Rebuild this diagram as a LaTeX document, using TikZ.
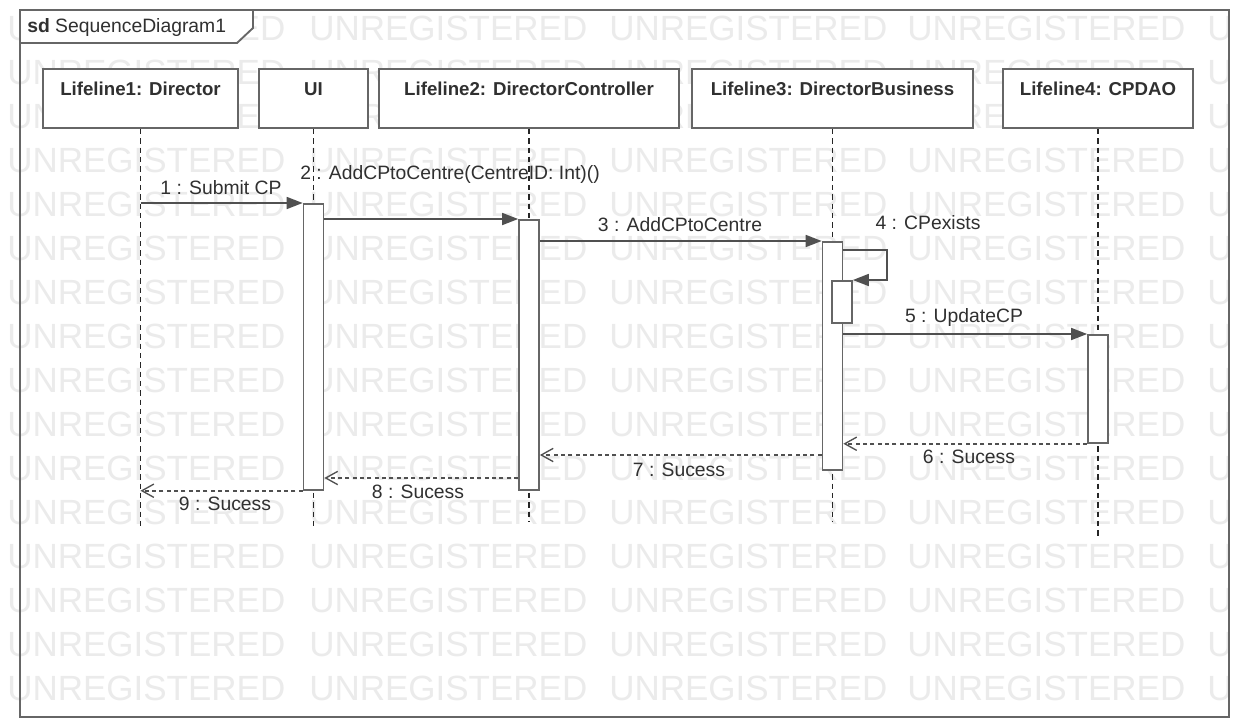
\documentclass[tikz,border=0pt]{standalone}
\usepackage{fontspec}
\setmainfont{Liberation Sans}
\usetikzlibrary{arrows.meta,calc}
\newcommand\pxu[1]{#1*0.75pt}
\definecolor{linecol}{HTML}{666666}
\definecolor{msgcol}{HTML}{505050}
\definecolor{txtcol}{HTML}{303030}
\definecolor{wmcol}{HTML}{EBEBEB}
\begin{document}
\begin{tikzpicture}[x=0.75pt,y=-0.75pt,
  font=\fontsize{14.5}{17}\selectfont, text=txtcol,
  wm/.style={inner sep=0pt, text=wmcol, font=\fontsize{26.25}{30}\selectfont},
  frame/.style={draw=linecol, line width=1.4pt},
  head/.style={draw=linecol, line width=1.3pt, fill=white, inner xsep=0pt, inner ysep=0pt,
    text height=19.5pt, text depth=24.75pt, font=\fontsize{14}{16}\selectfont\bfseries},
  bar/.style={draw=linecol, line width=1.3pt, fill=white, minimum width=\pxu{20}, inner sep=0pt, anchor=north},
  lifeline/.style={draw=black!85, line width=0.8pt, dash pattern=on 4pt off 3pt},
  msg/.style={draw=msgcol, line width=1.3pt, -{Triangle[length=12pt,width=9pt]}},
  ret/.style={draw=msgcol, line width=1.3pt, dash pattern=on 3pt off 2.5pt,
    -{Straight Barb[length=9pt,width=10pt,line width=1pt]}},
  lbl/.style={inner sep=0pt}
]
\useasboundingbox (0,0) rectangle (1235,725);
\fill[white] (0,0) rectangle (1235,725);

% watermark
\begin{scope}
\clip (0,0) rectangle (1235,725);
\foreach \r in {0,...,15} {
  \foreach \c/\xx in {0/7,1/309,2/609,3/907,4/1207} {
    \node[wm, anchor=base west] (wm-\r-\c) at (\xx, {40.5+44*\r}) {UNREGISTERED};
  }
}
\end{scope}

% frame
\coordinate (f1) at (20,10);
\coordinate (f2) at (1229,717);
\draw[frame] (f1) rectangle (f2);
\draw[frame, fill=white] (20,10) -- (253,10) -- (253,28) -- (237,43) -- (20,43) -- cycle;
\node[anchor=west, inner sep=0pt] (title) at (27,27) {\textbf{sd} SequenceDiagram1};

% heads
\node[head, minimum width=\pxu{195}] (h1) at (140.5,98.5) {Lifeline1: Director};
\node[head, minimum width=\pxu{109}] (h2) at (313.5,98.5) {UI};
\node[head, minimum width=\pxu{300}] (h3) at (529,98.5) {Lifeline2: DirectorController};
\node[head, minimum width=\pxu{281}] (h4) at (832.5,98.5) {Lifeline3: DirectorBusiness};
\node[head, minimum width=\pxu{190}] (h5) at (1098,98.5) {Lifeline4: CPDAO};

% lifelines
\coordinate (e1) at (140.5,530);
\coordinate (e2) at (313.5,530);
\coordinate (e3) at (529,521);
\coordinate (e4) at (832.5,521);
\coordinate (e5) at (1098,537);
\draw[lifeline] (h1.south) -- (e1);
\draw[lifeline] (h2.south) -- (e2);
\draw[lifeline] (h3.south) -- (e3);
\draw[lifeline] (h4.south) -- (e4);
\draw[lifeline] (h5.south) -- (e5);

% activations
\node[bar, minimum height=\pxu{286}] (a2) at (313.5,203) {};
\node[bar, minimum height=\pxu{270}] (a3) at (529,219) {};
\node[bar, minimum height=\pxu{228}] (a4) at (832.5,241) {};
\node[bar, minimum height=\pxu{42}] (a4b) at (842,280) {};
\node[bar, minimum height=\pxu{108}] (a5) at (1098,334) {};

% messages
\coordinate (s1) at (140.5,203);
\draw[msg] (s1) -- (a2.north west);
\node[lbl] (l1) at (221,188) {1 : Submit CP};

\draw[msg] (a2.east |- a3.north) -- (a3.north west);
\node[lbl] (l2) at (450,174) {2 : AddCPtoCentre(CentreID: Int)()};

\draw[msg] (a3.east |- a4.north) -- (a4.north west);
\node[lbl] (l3) at (680,225) {3 : AddCPtoCentre};

\coordinate (t4) at (887,250);
\draw[msg] (a4.east |- t4) -- (t4) |- (a4b.north east);
\node[lbl] (l4) at (928,223) {4 : CPexists};

\draw[msg] (a4.east |- a5.north) -- (a5.north west);
\node[lbl] (l5) at (964,317) {5 : UpdateCP};

\draw[ret] (a5.south west) -- (a4.east |- a5.south);
\node[lbl] (l6) at (969,457) {6 : Sucess};

\coordinate (y7) at (0,455);
\draw[ret] (a4.west |- y7) -- (a3.east |- y7);
\node[lbl] (l7) at (679,470) {7 : Sucess};

\coordinate (y8) at (0,478);
\draw[ret] (a3.west |- y8) -- (a2.east |- y8);
\node[lbl] (l8) at (418,492) {8 : Sucess};

\draw[ret] (a2.south west) -- (e1 |- a2.south);
\node[lbl] (l9) at (225,504) {9 : Sucess};
\end{tikzpicture}
\end{document}
